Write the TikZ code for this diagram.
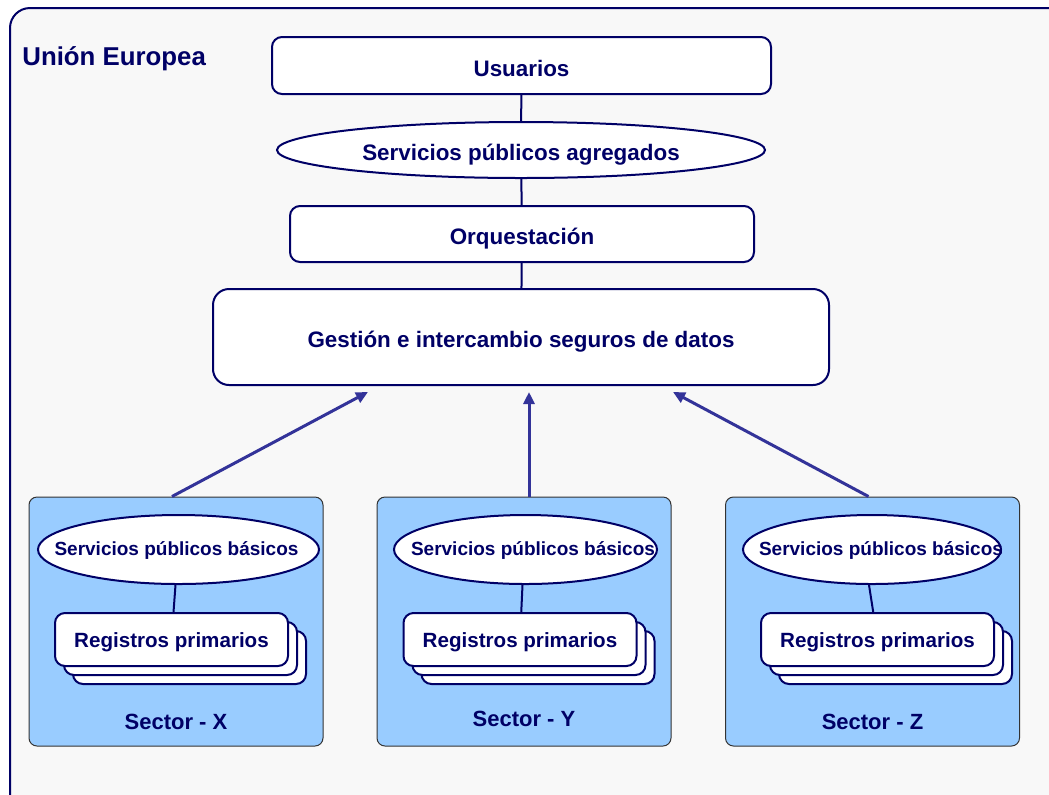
\documentclass[tikz,border=0pt]{standalone}
\usepackage{fontspec}
\setmainfont{Liberation Sans}
\usetikzlibrary{shapes.geometric,arrows.meta}

\definecolor{navy}{RGB}{0,0,102}
\definecolor{arrowblue}{RGB}{51,51,153}
\definecolor{sectorblue}{RGB}{153,204,255}
\definecolor{pagegray}{RGB}{248,248,248}

\tikzset{
	box/.style={draw=navy, line width=1pt, fill=white, rounded corners=5pt, text=navy, text height=10.5pt, text depth=0pt, font=\bfseries\fontsize{11.2}{13}\selectfont},
	oval/.style={ellipse, draw=navy, line width=1pt, fill=white, inner sep=0pt, text=navy, text height=10.5pt, text depth=0pt, font=\bfseries\fontsize{11.2}{13}\selectfont},
	sector/.style={draw=black!80, line width=0.5pt, fill=sectorblue, rounded corners=4pt, minimum width=147pt, minimum height=124.5pt},
	basic/.style={ellipse, draw=navy, line width=1pt, fill=white, inner sep=0pt, minimum height=34.5pt},
	basictext/.style={text=navy, inner sep=0pt, text height=6.8pt, text depth=0pt, font=\bfseries\fontsize{9.5}{11}\selectfont},
	record/.style={box, minimum width=116.5pt, minimum height=26.5pt, text height=8.4pt, font=\bfseries\fontsize{10.3}{12}\selectfont},
	label/.style={text=navy, font=\bfseries\fontsize{11}{13}\selectfont},
	link/.style={draw=navy, line width=1pt},
	arr/.style={draw=arrowblue, line width=1.5pt, -{Triangle[length=6pt,width=5.5pt]}}
}

\begin{document}
\begin{tikzpicture}[x=0.5pt, y=-0.5pt]
	\useasboundingbox (0,0) rectangle (1049,794);
	\clip (0,0) rectangle (1049,794);
	%\draw[help lines] (0,0) grid[step=50] (1049,794);
	\fill[white] (0,0) rectangle (1049,794);
	\draw[draw=navy, line width=1pt, fill=pagegray, rounded corners=10pt] (10,8) rectangle (1080,830);
	\node[text=navy, font=\bfseries\fontsize{12.9}{15}\selectfont, anchor=base west, inner sep=0pt] (ue) at (22,65) {Unión Europea};

	% upper layers
	\node[box, minimum width=249.5pt, minimum height=28.5pt] (usr) at (521.5,65.5) {Usuarios};
	\node[oval, minimum width=244pt, minimum height=28pt] (agr) at (521,150) {Servicios públicos agregados};
	\node[box, minimum width=232pt, minimum height=28pt] (orq) at (522,234) {Orquestación};
	\node[box, rounded corners=8pt, minimum width=308pt, minimum height=48pt] (ges) at (521,337) {Gestión e intercambio seguros de datos};
	\draw[link] (usr) -- (agr);
	\draw[link] (agr) -- (orq);
	\draw[link] (orq) -- (ges);

	% sectors
	\foreach \s/\x/\bx/\bw/\tx/\rx/\ly in {X/176/178.5/140.5/176.5/171.5/722, Y/524/525.5/131.5/533/520/719, Z/872.5/872/129/881/877.5/722}{
		\node[sector] (sec\s) at (\x,621.5) {};
		\node[basic, minimum width=\bw pt] (bas\s) at (\bx,549.5) {};
		\node[basictext] (bast\s) at (\tx,549) {Servicios públicos básicos};
		\node[record] (recc\s) at (\rx+18,657.5) {};
		\node[record] (recb\s) at (\rx+9,648.5) {};
		\node[record] (rec\s) at (\rx,639.5) {Registros primarios};
		\node[label] (lab\s) at (\x,\ly) {Sector - \s};
		\draw[link] ([xshift=-1.5pt]bas\s.south) -- (rec\s);
	}

	% data flows up to the exchange layer
	\draw[arr] ([xshift=-2pt]secX.north) -- ([xshift=-76.5pt,yshift=-3pt]ges.south);
	\draw[arr] ([xshift=2.5pt]secY.north) -- ([xshift=4pt,yshift=-3pt]ges.south);
	\draw[arr] ([xshift=-2pt]secZ.north) -- ([xshift=76pt,yshift=-3pt]ges.south);
\end{tikzpicture}
\end{document}
